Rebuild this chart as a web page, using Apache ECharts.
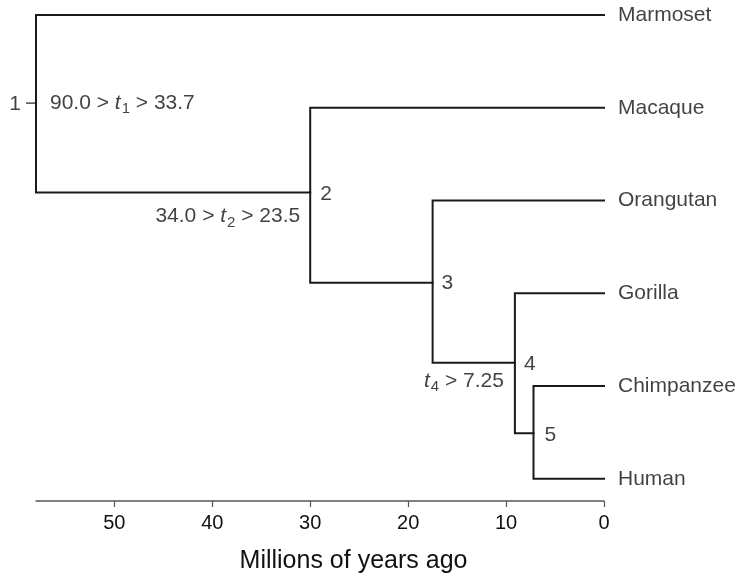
<!DOCTYPE html>
<html>
<head>
<meta charset="utf-8">
<script src="https://cdn.jsdelivr.net/npm/echarts@6/dist/echarts.min.js"></script>
<style>html,body{margin:0;padding:0;background:#fff}#c{width:745px;height:577px}</style>
</head>
<body>
<div id="c"></div>
<script>
// ---- data ----
const leafNames = ['Marmoset', 'Macaque', 'Orangutan', 'Gorilla', 'Chimpanzee', 'Human'];
const leafRows = [0, 1, 2, 3, 4, 5];
const leafAges = [0, 0, 0, 0, 0, 0];
const nodeIds = ['1', '2', '3', '4', '5'];
const nodeAges = [58, 30.0, 17.5, 9.1, 7.2];
const nodeRows = [0.95, 1.915, 2.888, 3.749, 4.509];
// children of each node: 'L#' = leaf index, 'N#' = node index
const nodeChildren = [['L0', 'N1'], ['L1', 'N2'], ['L2', 'N3'], ['L3', 'N4'], ['L4', 'L5']];
const intervalTexts = ['90.0 > {it|t}{sub|1} > 33.7', '34.0 > {it|t}{sub|2} > 23.5', '{it|t}{sub|4} > 7.25'];
const intervalNodes = [0, 1, 3];
const tickValues = [0, 10, 20, 30, 40, 50];
const axisTitle = 'Millions of years ago';

// ---- build ----
const FONT = 'Liberation Sans, Arial, sans-serif';
const TXT = '#111';
function pos(id) {
  const i = +id.slice(1);
  return id[0] === 'L' ? [leafAges[i], leafRows[i]] : [nodeAges[i], nodeRows[i]];
}
const branchSeries = nodeChildren.map((ch, i) => {
  const a = pos(ch[0]), b = pos(ch[1]);
  return {
    type: 'line', symbol: 'none', clip: false, silent: true,
    lineStyle: { color: '#1a1a1a', width: 2, join: 'miter', cap: 'square' },
    data: [a, [nodeAges[i], a[1]], [nodeAges[i], b[1]], b]
  };
});

const nodeLabelCfg = [
  { position: 'left', distance: 15, offset: [0, 1] },
  { position: 'right', distance: 10, offset: [0, 2] },
  { position: 'right', distance: 9, offset: [0, 0] },
  { position: 'right', distance: 9, offset: [0, 1] },
  { position: 'right', distance: 11, offset: [0, 2] }
];
const nodeLabelData = nodeIds.map((id, i) => ({
  value: [nodeAges[i], nodeRows[i]],
  label: Object.assign({ show: true, formatter: id, fontSize: 21, fontFamily: FONT, color: TXT }, nodeLabelCfg[i])
}));

const rich = {
  it: { fontStyle: 'italic', fontSize: 21, fontFamily: FONT, color: TXT },
  sub: { fontSize: 15, fontFamily: FONT, color: TXT, padding: [12, 0, 0, 1] }
};
const intervalCfg = [
  { position: 'right', distance: 14, offset: [0, 0] },
  { position: 'left', distance: 10, offset: [0, 24] },
  { position: 'left', distance: 11, offset: [0, 18] }
];
const intervalData = intervalTexts.map((t, k) => ({
  value: [nodeAges[intervalNodes[k]], nodeRows[intervalNodes[k]]],
  label: Object.assign({ show: true, formatter: t, fontSize: 21, fontFamily: FONT, color: TXT, rich: rich }, intervalCfg[k])
}));

const leafData = leafNames.map((n, i) => ({
  value: [leafAges[i], leafRows[i]],
  label: { show: true, formatter: n, position: 'right', distance: 14, fontSize: 21, fontFamily: FONT, color: TXT }
}));

const chart = echarts.init(document.getElementById('c'), null, { renderer: 'canvas' });
chart.setOption({
  animation: false,
  backgroundColor: '#fff',
  grid: { left: 36, right: 141, top: 15, bottom: 76, containLabel: false },
  xAxis: {
    type: 'value', inverse: true, min: 0, max: 58, interval: 10, position: 'bottom',
    splitLine: { show: false },
    axisLine: { show: true, onZero: false, lineStyle: { color: '#555', width: 1.5 } },
    axisTick: { show: true, length: 6, lineStyle: { color: '#555', width: 1.2 }, customValues: tickValues },
    axisLabel: { customValues: tickValues, fontSize: 20, fontFamily: FONT, color: TXT, margin: 12 }
  },
  yAxis: { type: 'value', inverse: true, min: 0, max: 5.24, show: false, splitLine: { show: false } },
  graphic: [{
    type: 'text', x: 353.5, y: 561,
    style: { text: axisTitle, font: '25px ' + FONT, fill: TXT, textAlign: 'center', textVerticalAlign: 'middle' }
  }],
  series: branchSeries.concat([
    { type: 'scatter', silent: true, clip: false, symbol: 'rect', symbolSize: [10, 1.5], symbolOffset: [-5, 0],
      itemStyle: { color: '#1a1a1a' }, data: [[nodeAges[0], nodeRows[0]]] },
    { type: 'scatter', symbolSize: 0, silent: true, clip: false, data: nodeLabelData },
    { type: 'scatter', symbolSize: 0, silent: true, clip: false, data: intervalData },
    { type: 'scatter', symbolSize: 0, silent: true, clip: false, data: leafData }
  ])
});
</script>
</body>
</html>
